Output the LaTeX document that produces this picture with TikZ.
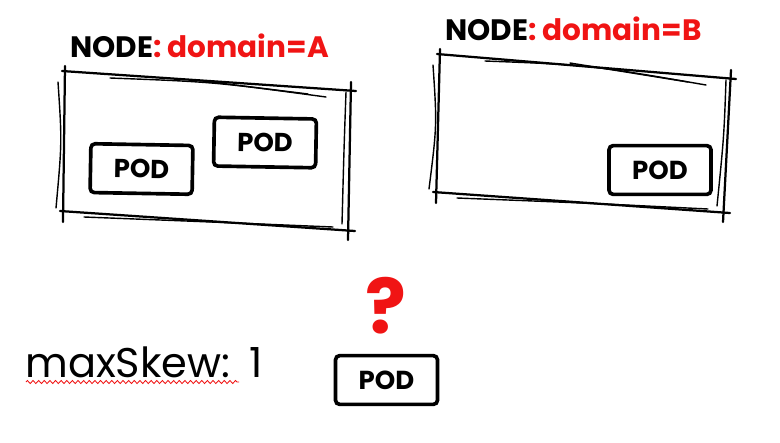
\documentclass[tikz,border=0pt]{standalone}
\usepackage{fontspec}
\setmainfont{Poppins}
\usetikzlibrary{calc, decorations.pathmorphing}
\definecolor{rojo}{RGB}{240,20,20}

\begin{document}
\begin{tikzpicture}[x=0.025cm, y=-0.025cm,
    trazo/.style={line width=1.6pt, line cap=round},
    trazofino/.style={line width=1pt, line cap=round},
    pod/.style={draw, line width=2.6pt, rounded corners=3pt, minimum width=2.55cm, minimum height=1.22cm,
        font=\bfseries\fontsize{18.5}{18.5}\selectfont},
    titulo/.style={anchor=base west, inner sep=0pt, font=\bfseries\fontsize{21}{21}\selectfont}]
            \useasboundingbox (0,0) rectangle (780,442);

            % Esquinas de los nodos
            \coordinate (aTL) at (65,72);  \coordinate (aTR) at (348,88);
            \coordinate (aBR) at (345,230); \coordinate (aBL) at (62,212);
            \coordinate (bTL) at (440,55); \coordinate (bTR) at (728,76);
            \coordinate (bBR) at (720,212); \coordinate (bBL) at (435,193);

            % Cajas a mano alzada
            \foreach \n in {a,b} {
                \draw[trazo] ($(\n TL)+(-3,-1)$) -- ($(\n TR)+(8,3)$);
                \draw[trazofino] ($(\n TL)+(45,6)$) .. controls ($(\n TL)+(150,10)$) .. ($(\n TR)+(-22,9)$);
                \draw[trazofino] ($(\n TL)+(130,8)$) -- ($(\n TR)+(-40,6)$);
                \draw[trazo] ($(\n TR)+(3,-6)$) -- ($(\n BR)+(3,10)$);
                \draw[trazofino] ($(\n TR)+(-2,4)$) .. controls ($(\n TR)+(-4,60)$) .. ($(\n BR)+(-3,-6)$);
                \draw[trazo] ($(\n BL)+(-2,-1)$) -- ($(\n BR)+(10,1)$);
                \draw[trazofino] ($(\n BL)+(22,5)$) .. controls ($(\n BL)+(150,10)$) .. ($(\n BR)+(-12,-3)$);
                \draw[trazo] ($(\n TL)+(0,-6)$) -- ($(\n BL)+(1,10)$);
                \draw[trazofino] ($(\n TL)+(-7,10)$) .. controls ($(\n TL)+(-3,70)$) .. ($(\n BL)+(-6,-4)$);
            }

            % Titulos
            \node[titulo] (tituloA) at (70,57) {NODE\textcolor{rojo}{: domain=A}};
            \node[titulo] (tituloB) at (445,40) {NODE\textcolor{rojo}{: domain=B}};

            % Pods
            \node[pod, rotate=-1] (podA1) at (141.5,169) {POD};
            \node[pod, rotate=-1] (podA2) at (265,142.5) {POD};
            \node[pod] (podB) at (660,170) {POD};
            \node[pod] (podNuevo) at (386.5,380) {POD};
            \node[text=rojo, font=\bfseries\fontsize{54}{54}\selectfont, inner sep=0pt] (pregunta) at (386,306) {?};

            % maxSkew
            \node[anchor=base west, inner sep=0pt, font=\fontsize{29.5}{29.5}\selectfont] (skew) at (25,377) {maxSkew:\hspace{14pt}1};
            \coordinate (ondaIni) at ($(skew.base west)+(1,5)$);
            \coordinate (ondaFin) at ($(skew.base west)+(214,5)$);
            \draw[rojo, line width=0.6pt, decorate, decoration={zigzag, amplitude=1.1pt, segment length=4pt}] (ondaIni) -- (ondaFin);
        \end{tikzpicture}
\end{document}
